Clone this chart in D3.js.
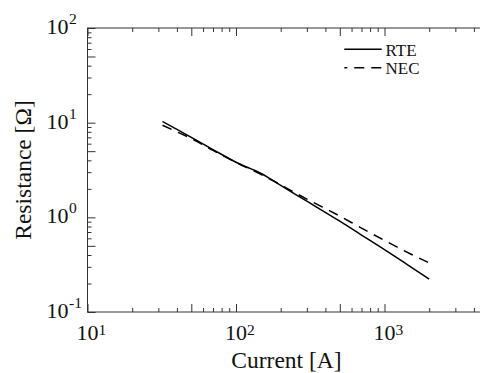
<!DOCTYPE html>
<html>
<head>
<meta charset="utf-8">
<script src="https://cdn.jsdelivr.net/npm/d3@7"></script>
<style>
  body { margin: 0; background: #fff; }
  svg { display: block; font-family: "Liberation Serif", "Times New Roman", serif; }
</style>
</head>
<body>
<svg width="480" height="373"></svg>
<script>
// values
var current = [32, 40, 50, 70, 100, 150, 200, 300, 500, 700, 1000, 1500, 2000];
var rte     = [10.3, 8.5, 7.0, 5.2, 3.82, 2.87, 2.17, 1.48, 0.91, 0.65, 0.455, 0.30, 0.223];
var nec     = [9.4, 8.0, 6.8, 5.1, 3.8, 2.8, 2.2, 1.56, 1.03, 0.77, 0.57, 0.41, 0.33];
var xMajor = [10, 100, 1000];
var yMajor = [0.1, 1, 10, 100];
var seriesNames = ["RTE", "NEC"];

var svg = d3.select("svg");
// plot box (right edge runs just past the window, as in the reference)
var pL = 87.5, pR = 488.3, pT = 28, pB = 312;

var x = d3.scaleLog().domain([10, 5000]).range([pL, pR]);
var y = d3.scaleLog().domain([0.1, 100]).range([pB, pT]);

// 1..9 ticks for every decade
function decadeTicks(lo, hi) {
    var out = [];
    for (var e = Math.floor(Math.log10(lo)); e <= Math.ceil(Math.log10(hi)); e++) {
        for (var m = 1; m < 10; m++) {
            var v = m * Math.pow(10, e);
            if (v >= lo * 0.999 && v <= hi * 1.001) out.push(v);
        }
    }
    return out;
}
function isLong(v) {
    var m = v / Math.pow(10, Math.floor(Math.log10(v) + 1e-9));
    return Math.abs(m - 1) < 1e-6 || Math.abs(m - 5) < 1e-6;
}

var xt = decadeTicks(10, 5000), yt = decadeTicks(0.1, 100);

function drawAxis(axis, transform) {
    var g = svg.append("g").attr("transform", transform).call(axis);
    g.select(".domain").remove();
    g.selectAll("text").remove();
    g.selectAll(".tick line").attr("stroke", "#333");
    return g;
}
function len(n) { return function(d) { return isLong(d) ? n * 8 : n * 4; }; }

// ticks on all four sides, pointing inwards
drawAxis(d3.axisTop(x).tickValues(xt).tickSizeOuter(0), "translate(0," + pB + ")")
    .selectAll(".tick line").attr("y2", len(-1));
drawAxis(d3.axisBottom(x).tickValues(xt).tickSizeOuter(0), "translate(0," + pT + ")")
    .selectAll(".tick line").attr("y2", len(1));
drawAxis(d3.axisRight(y).tickValues(yt).tickSizeOuter(0), "translate(" + pL + ",0)")
    .selectAll(".tick line").attr("x2", len(1));
drawAxis(d3.axisLeft(y).tickValues(yt).tickSizeOuter(0), "translate(" + pR + ",0)")
    .selectAll(".tick line").attr("x2", len(-1));

svg.append("rect")
    .attr("x", pL).attr("y", pT)
    .attr("width", pR - pL).attr("height", pB - pT)
    .attr("fill", "none").attr("stroke", "#333").attr("stroke-width", 1);

// tick labels 10^n
xMajor.forEach(function(v) {
    var e = Math.round(Math.log10(v));
    svg.append("text").attr("x", x(v)).attr("y", 340)
        .attr("text-anchor", "middle").attr("font-size", 22).attr("fill", "#111").text("10");
    svg.append("text").attr("x", x(v) + 11).attr("y", 334.5)
        .attr("font-size", 15.5).attr("fill", "#111").text(e);
});
yMajor.forEach(function(v) {
    var e = Math.round(Math.log10(v));
    svg.append("text").attr("x", 68.5).attr("y", y(v) + 6)
        .attr("text-anchor", "end").attr("font-size", 22).attr("fill", "#111").text("10");
    svg.append("text").attr("x", 69).attr("y", y(v) - 4)
        .attr("font-size", 15.5).attr("fill", "#111").text(e);
});

svg.append("text")
    .attr("x", 286.5).attr("y", 368)
    .attr("text-anchor", "middle").attr("font-size", 23.5).attr("fill", "#111")
    .text("Current [A]");
svg.append("text")
    .attr("transform", "translate(31," + (pT + pB) / 2 + ") rotate(-90)")
    .attr("text-anchor", "middle").attr("font-size", 23.5).attr("fill", "#111")
    .text("Resistance [Ω]");

var line = d3.line()
    .x(function(d) { return x(d[0]); })
    .y(function(d) { return y(d[1]); })
    .curve(d3.curveMonotoneX);

svg.append("path")
    .datum(d3.zip(current, rte))
    .attr("d", line)
    .attr("fill", "none").attr("stroke", "#000").attr("stroke-width", 1.5);
svg.append("path")
    .datum(d3.zip(current, nec))
    .attr("d", line)
    .attr("fill", "none").attr("stroke", "#000").attr("stroke-width", 1.5)
    .attr("stroke-dasharray", "10,7");

// legend
var leg = svg.append("g");
seriesNames.forEach(function(name, i) {
    var ly = 49.3 + i * 18.4;
    leg.append("line")
        .attr("x1", 344.3).attr("x2", 381.7).attr("y1", ly).attr("y2", ly)
        .attr("stroke", "#000").attr("stroke-width", 1.5)
        .attr("stroke-dasharray", i ? "10,7" : null)
        .attr("stroke-dashoffset", i ? 7 : null);
    leg.append("text")
        .attr("x", 385.5).attr("y", ly + 6.5)
        .attr("font-size", 17).attr("fill", "#111").text(name);
});
</script>
</body>
</html>
